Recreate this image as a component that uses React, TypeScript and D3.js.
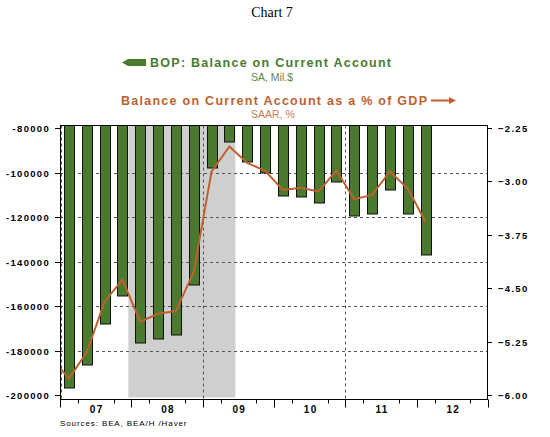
import React, { useRef, useEffect } from "react";
import * as d3 from "d3";

// quarterly data
const quarters = [
  "2007Q1", "2007Q2", "2007Q3", "2007Q4",
  "2008Q1", "2008Q2", "2008Q3", "2008Q4",
  "2009Q1", "2009Q2", "2009Q3", "2009Q4",
  "2010Q1", "2010Q2", "2010Q3", "2010Q4",
  "2011Q1", "2011Q2", "2011Q3", "2011Q4",
  "2012Q1",
];
const balance = [
  -197000, -186500, -168200, -155500,
  -176800, -175000, -173200, -150700,
  -98100, -86400, -95400, -100400,
  -110600, -111000, -113900, -104300,
  -119700, -118800, -108000, -118800,
  -137200,
];
// the % of GDP line starts one quarter earlier (clipped at the left edge)
const pctQuarters = ["2006Q4", ...quarters];
const pctGdp = [
  -5.47,
  -5.77, -5.4, -4.69, -4.38,
  -4.97, -4.86, -4.82, -4.27,
  -2.86, -2.51, -2.74, -2.85,
  -3.12, -3.09, -3.14, -2.85,
  -3.25, -3.19, -2.86, -3.1,
  -3.57,
];
const leftTicks = [-80000, -100000, -120000, -140000, -160000, -180000, -200000];
const rightTicks = [-2.25, -3.0, -3.75, -4.5, -5.25, -6.0];
const years = [2007, 2008, 2009, 2010, 2011, 2012];
const yearLabels = ["07", "08", "09", "10", "11", "12"];
const recession = ["2007-12", "2009-06"];

const GREEN = "#4a7a2e";
const ORANGE = "#c0602f";
const SANS = "'Liberation Sans', Arial, sans-serif";

const qToYear = (q) => +q.slice(0, 4) + (+q.slice(5) - 1) / 4 + 0.125;
const mToYear = (m) => +m.slice(0, 4) + (+m.slice(5) - 0.5) / 12;

const App = () => {
  const ref = useRef(null);
  const W = 550;
  const H = 437;
  const plot = { left: 60, right: 488, top: 125.5, bottom: 399.5 };

  useEffect(() => {
    document.body.style.margin = "0";
    const svg = d3.select(ref.current);
    svg.selectAll("*").remove();

    const x = d3.scaleLinear().domain([2007, 2013]).range([plot.left, plot.right]);
    const yL = d3.scaleLinear().domain([-200000, -80000]).range([395, 128]);
    const yR = d3.scaleLinear().domain([-6, -2.25]).range([395, 128]);

    svg.append("defs").append("clipPath").attr("id", "plotclip")
      .append("rect")
      .attr("x", plot.left).attr("y", plot.top)
      .attr("width", plot.right - plot.left).attr("height", plot.bottom - plot.top);

    // title
    svg.append("text")
      .attr("x", 272).attr("y", 17)
      .attr("text-anchor", "middle")
      .style("font-family", "'Liberation Serif', 'Times New Roman', serif")
      .style("font-size", "14px")
      .text("Chart 7");

    // legend
    const lg = svg.append("g").style("font-family", SANS);
    lg.append("path")
      .attr("d", "M122,62.5 L128,59 L146,59 L146,66 L128,66 Z")
      .attr("fill", GREEN);
    lg.append("text")
      .attr("x", 150).attr("y", 67)
      .attr("textLength", 241).attr("lengthAdjust", "spacing")
      .style("font-size", "12.5px").style("font-weight", "bold")
      .attr("fill", GREEN)
      .text("BOP: Balance on Current Account");
    lg.append("text")
      .attr("x", 272).attr("y", 81)
      .attr("text-anchor", "middle")
      .style("font-size", "10.5px").attr("fill", "#5c8a48")
      .text("SA, Mil.$");
    lg.append("text")
      .attr("x", 121).attr("y", 105)
      .attr("textLength", 306).attr("lengthAdjust", "spacing")
      .style("font-size", "12.5px").style("font-weight", "bold")
      .attr("fill", ORANGE)
      .text("Balance on Current Account as a % of GDP");
    lg.append("line")
      .attr("x1", 431).attr("x2", 452).attr("y1", 100.5).attr("y2", 100.5)
      .attr("stroke", ORANGE).attr("stroke-width", 2);
    lg.append("path")
      .attr("d", "M456,100.5 L449,97 L449,104 Z")
      .attr("fill", ORANGE);
    lg.append("text")
      .attr("x", 273).attr("y", 118)
      .attr("text-anchor", "middle")
      .style("font-size", "10.5px").attr("fill", "#c87a55")
      .text("SAAR, %");

    // recession shading
    svg.append("rect")
      .attr("x", x(mToYear(recession[0])))
      .attr("y", plot.top)
      .attr("width", x(mToYear(recession[1])) - x(mToYear(recession[0])))
      .attr("height", plot.bottom - 2 - plot.top)
      .attr("fill", "#cfcfcf");

    // grid
    const grid = svg.append("g")
      .attr("stroke", "#555").attr("stroke-dasharray", "3,3").attr("stroke-width", 1);
    leftTicks.slice(1, -1).forEach((v) => {
      grid.append("line")
        .attr("x1", plot.left).attr("x2", plot.right)
        .attr("y1", Math.round(yL(v)) + 0.5).attr("y2", Math.round(yL(v)) + 0.5);
    });
    [2007, 2009, 2011].forEach((yr) => {
      const gx = Math.round(x(yr)) + (yr === 2007 ? 1.5 : 0.5);
      grid.append("line")
        .attr("x1", gx).attr("x2", gx)
        .attr("y1", plot.top).attr("y2", plot.bottom);
    });

    // bars
    const bw = 10;
    svg.append("g").attr("clip-path", "url(#plotclip)")
      .selectAll("rect")
      .data(quarters)
      .join("rect")
      .attr("x", (q) => Math.round(x(qToYear(q)) - bw / 2) + 0.5)
      .attr("y", plot.top - 2)
      .attr("width", bw)
      .attr("height", (q, i) => Math.round(yL(balance[i])) - plot.top + 2)
      .attr("fill", GREEN)
      .attr("stroke", "#111")
      .attr("stroke-width", 1);

    // % of GDP line
    const line = d3.line()
      .x((q) => x(qToYear(q)))
      .y((q, i) => yR(pctGdp[i]));
    svg.append("path")
      .attr("clip-path", "url(#plotclip)")
      .attr("d", line(pctQuarters))
      .attr("fill", "none")
      .attr("stroke", ORANGE)
      .attr("stroke-width", 2)
      .attr("stroke-linejoin", "miter");

    // frame
    const frame = svg.append("g").attr("stroke", "#000").attr("stroke-width", 1);
    frame.append("line").attr("x1", plot.left).attr("x2", plot.right)
      .attr("y1", plot.top).attr("y2", plot.top);
    frame.append("line").attr("x1", plot.left).attr("x2", plot.right)
      .attr("y1", plot.bottom).attr("y2", plot.bottom);
    frame.append("line").attr("x1", plot.left + 0.5).attr("x2", plot.left + 0.5)
      .attr("y1", plot.top).attr("y2", plot.bottom);
    frame.append("line").attr("x1", plot.right - 0.5).attr("x2", plot.right - 0.5)
      .attr("y1", plot.top).attr("y2", plot.bottom);

    // left axis
    const axisText = (sel) => sel
      .style("font-family", SANS).style("font-size", "9.5px")
      .style("font-weight", "bold").style("letter-spacing", "1.3px");
    leftTicks.forEach((v) => {
      const ty = Math.round(yL(v)) + 0.5;
      frame.append("line").attr("x1", plot.left - 5).attr("x2", plot.left)
        .attr("y1", ty).attr("y2", ty);
      svg.append("text").call(axisText)
        .attr("x", 50).attr("y", ty + 3.5)
        .attr("text-anchor", "end")
        .text(v);
    });

    // right axis
    rightTicks.forEach((v) => {
      const ty = Math.round(yR(v)) + 0.5;
      frame.append("line").attr("x1", plot.right).attr("x2", plot.right + 4)
        .attr("y1", ty).attr("y2", ty);
      svg.append("text").call(axisText)
        .attr("x", 498).attr("y", ty + 3.5)
        .text(d3.format(".2f")(v));
    });

    // bottom axis ticks: tall at years, short at quarters
    d3.range(2007, 2013.01, 0.25).forEach((t) => {
      const frac = +(t % 1).toFixed(2);
      if (frac === 0.5) return;
      const tx = Math.round(x(t)) + 0.5;
      frame.append("line").attr("x1", tx).attr("x2", tx)
        .attr("y1", plot.bottom).attr("y2", plot.bottom + (frac === 0 ? 8 : 4));
    });
    years.forEach((yr, i) => {
      svg.append("text").call(axisText)
        .attr("x", x(yr + 0.5) + 1).attr("y", 413)
        .attr("text-anchor", "middle")
        .style("font-size", "10px")
        .text(yearLabels[i]);
    });

    svg.append("text")
      .attr("x", 60).attr("y", 426)
      .style("font-family", SANS).style("font-size", "8px")
      .style("letter-spacing", "0.9px")
      .text("Sources: BEA, BEA/H /Haver");
  }, []);

  return (
    <svg ref={ref} width={W} height={H} style={{ display: "block", background: "#fff" }}></svg>
  );
};

export default App;
